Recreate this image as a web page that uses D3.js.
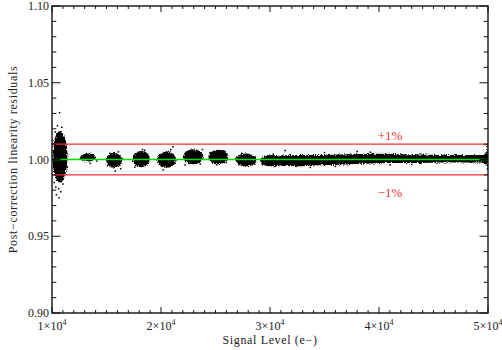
<!DOCTYPE html>
<html><head><meta charset="utf-8">
<script src="https://cdn.jsdelivr.net/npm/d3@7"></script>
<style>body{margin:0;background:#fff}svg{display:block}text{font-family:"Liberation Serif","DejaVu Serif",serif}</style>
</head><body>
<svg id="c" width="502" height="350"></svg>
<script>
// ---- data ----
const xTicks = [10000, 20000, 30000, 40000, 50000];
const xTickLabels = ["1", "2", "3", "4", "5"];
const yTicks = [0.90, 0.95, 1.00, 1.05, 1.10];
const yTickLabels = ["0.90", "0.95", "1.00", "1.05", "1.10"];
const limitLines = [1.01, 0.99];
const limitLabels = ["+1%", "\u22121%"];
// discrete clusters: signal centre, signal half-width, residual centre, residual half-height
const clusterSignal = [10730, 13300, 15690, 18190, 20520, 22960, 25260, 27800, 30150];
const clusterHalfW  = [ 680,  720,  740,  780,  850,  920,  920,  980, 1060];
const clusterResid  = [1.0018, 1.0013, 0.9994, 1.0003, 0.9999, 1.0018, 1.0016, 0.9997, 0.9992];
const clusterHalfH  = [0.0168, 0.0026, 0.0048, 0.0053, 0.0053, 0.0049, 0.0047, 0.0042, 0.0037];
// continuous band at high signal
const bandSignal = [30900, 31400, 32800, 34600, 36400, 38300, 40100, 41900, 43800, 45600, 47400, 49300, 49800, 50000];
const bandTop    = [1.0024, 1.0028, 1.0029, 1.0029, 1.0032, 1.0036, 1.0037, 1.0035, 1.0033, 1.0030, 1.0029, 1.0029, 1.0042, 1.0072];
const bandBottom = [0.9960, 0.9958, 0.9956, 0.9962, 0.9966, 0.9973, 0.9976, 0.9978, 0.9978, 0.9980, 0.9980, 0.9980, 0.9968, 0.9948];
// stray points
const outSignal = [10700,10500,10900,10300,11200,11300,10200,10600,10800,10400,11000,11400,10100,10650,10350,
  12600,14100,13500,13000, 15100,16300,15800,15300,16100, 17600,18500,18800,18300,
  21100,20900,20200,21300, 22200,23800,23600,22400, 24500,26000,25100,25800,
  27100,28600,27400, 29300,30900,30300, 31400,33700,36000,38000,39200,41000,43000,35000,49900,49950];
const outResid = [1.0305,1.022,1.021,1.018,1.012,1.005,0.985,0.981,0.979,0.977,0.984,0.995,1.010,0.975,0.982,
  1.0005,0.999,0.9975,1.003, 0.996,0.994,0.9925,1.004,1.005, 0.995,1.006,0.998,1.0065,
  1.0083,1.0065,0.9932,0.9975, 0.9964,1.0065,0.997,1.005, 1.0045,0.998,0.9965,1.0055,
  0.9985,0.997,1.004, 0.997,0.9965,1.0035, 1.0058,0.9948,0.9955,1.0052,1.0048,0.9965,0.9968,1.0045,1.0085,0.994];

// ---- layout ----
const svg = d3.select("#c");
const L = 52, R = 488, T = 6, B = 313;
const x = d3.scaleLinear().domain([10000, 50000]).range([L, R]);
const y = d3.scaleLinear().domain([0.90, 1.10]).range([B, T]);

const defs = svg.append("defs");
const f = defs.append("filter").attr("id","grain").attr("x","-30%").attr("y","-30%").attr("width","160%").attr("height","160%");
f.append("feTurbulence").attr("type","fractalNoise").attr("baseFrequency","0.9").attr("numOctaves","1").attr("seed","3").attr("result","n");
f.append("feDisplacementMap").attr("in","SourceGraphic").attr("in2","n").attr("scale","4").attr("xChannelSelector","R").attr("yChannelSelector","G");
defs.append("clipPath").attr("id","plot").append("rect").attr("x",L).attr("y",T).attr("width",R-L).attr("height",B-T);

const g = svg.append("g").attr("clip-path","url(#plot)");
const dataG = g.append("g").attr("filter","url(#grain)");
dataG.selectAll("ellipse").data(clusterSignal).join("ellipse")
  .attr("cx", d => x(d))
  .attr("cy", (d,i) => y(clusterResid[i]))
  .attr("rx", (d,i) => x(d + clusterHalfW[i]) - x(d))
  .attr("ry", (d,i) => y(clusterResid[i] - clusterHalfH[i]) - y(clusterResid[i]))
  .attr("fill", "#000");
const band = bandSignal.map((s,i) => ({s, t: bandTop[i], b: bandBottom[i]}));
dataG.append("path").datum(band)
  .attr("d", d3.area().x(d => x(d.s)).y0(d => y(d.b)).y1(d => y(d.t)).curve(d3.curveMonotoneX))
  .attr("fill", "#000");
g.selectAll("rect.o").data(outSignal).join("rect").attr("class","o")
  .attr("x", d => x(d) - 0.75).attr("y", (d,i) => y(outResid[i]) - 0.75)
  .attr("width", 1.5).attr("height", 1.5).attr("fill", "#000");

// reference lines
g.append("line").attr("x1", L).attr("x2", R).attr("y1", y(1.0)).attr("y2", y(1.0))
  .attr("stroke", "#00dd00").attr("stroke-width", 1.3);
g.selectAll("line.lim").data(limitLines).join("line").attr("class","lim")
  .attr("x1", L).attr("x2", R).attr("y1", d => y(d)).attr("y2", d => y(d))
  .attr("stroke", "#ee3333").attr("stroke-width", 1.3);
svg.selectAll("text.lim").data(limitLabels).join("text").attr("class","lim")
  .attr("x", 390).attr("y", (d,i) => i === 0 ? y(limitLines[0]) - 4 : y(limitLines[1]) + 22)
  .attr("text-anchor","middle").attr("font-size", 13).attr("fill", "#ee3333").text(d => d);

// axes: ticks
const ax = svg.append("g").attr("stroke", "#111").attr("stroke-width", 1);
const xMinor = d3.range(10000, 50001, 1000);
const yMinor = d3.range(0, 21).map(i => 0.90 + i * 0.01);
xMinor.forEach(v => {
  const len = (v % 10000 === 0) ? 6 : 3;
  ax.append("line").attr("x1", x(v)).attr("x2", x(v)).attr("y1", B).attr("y2", B - len);
  ax.append("line").attr("x1", x(v)).attr("x2", x(v)).attr("y1", T).attr("y2", T + len);
});
yMinor.forEach((v,i) => {
  const len = (i % 5 === 0) ? 8.5 : 4.3;
  ax.append("line").attr("y1", y(v)).attr("y2", y(v)).attr("x1", L).attr("x2", L + len);
  ax.append("line").attr("y1", y(v)).attr("y2", y(v)).attr("x1", R).attr("x2", R - len);
});
svg.append("rect").attr("x", L).attr("y", T).attr("width", R - L).attr("height", B - T)
  .attr("fill","none").attr("stroke","#111").attr("stroke-width", 1.4);

// tick labels
svg.selectAll("text.yt").data(yTicks).join("text").attr("class","yt")
  .attr("x", L - 3).attr("y", d => y(d) + 4).attr("text-anchor","end").attr("font-size", 12)
  .attr("fill","#222").text((d,i) => yTickLabels[i]);
const xt = svg.selectAll("text.xt").data(xTicks).join("text").attr("class","xt")
  .attr("x", d => x(d)).attr("y", 330).attr("text-anchor","middle").attr("font-size", 12).attr("fill","#222");
xt.append("tspan").text((d,i) => xTickLabels[i] + "\u00d710");
xt.append("tspan").attr("dy", -5).attr("font-size", 8).text("4");

svg.append("text").attr("x", (L + R) / 2).attr("y", 344).attr("text-anchor","middle")
  .attr("font-size", 12).attr("letter-spacing", 0.65).attr("fill","#222").text("Signal Level (e\u2212)");
svg.append("text").attr("transform", `translate(17,${(T + B) / 2}) rotate(-90)`).attr("text-anchor","middle")
  .attr("font-size", 12).attr("letter-spacing", 0.65).attr("fill","#222").text("Post\u2212correction linearity residuals");
</script>
</body></html>
